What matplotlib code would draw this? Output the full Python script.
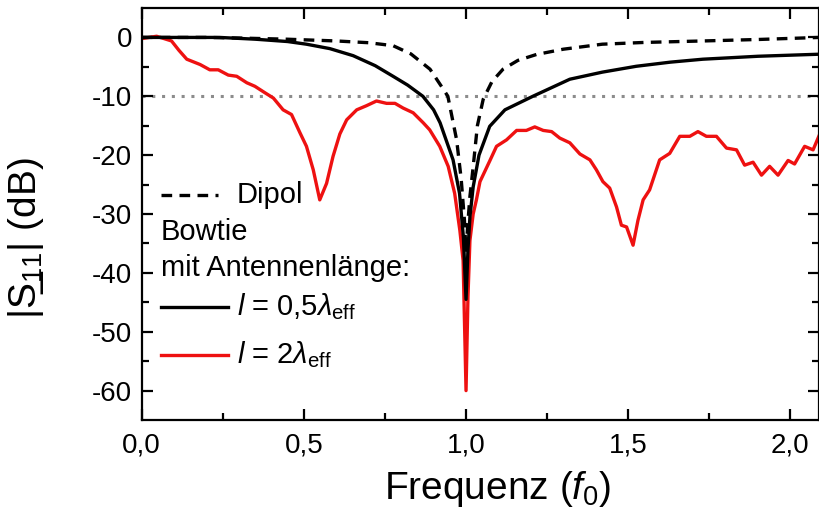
import matplotlib
matplotlib.use("Agg")
import matplotlib.pyplot as plt

plt.rcParams['font.family'] = ['Liberation Sans', 'DejaVu Sans']
plt.rcParams['mathtext.fontset'] = 'custom'
plt.rcParams['mathtext.rm'] = 'Liberation Sans'
plt.rcParams['mathtext.it'] = 'Liberation Sans:italic'
plt.rcParams['mathtext.bf'] = 'Liberation Sans:bold'

# ---- data ----
dipol_x = [0.0, 0.10, 0.20, 0.30, 0.447, 0.60, 0.70, 0.775, 0.83, 0.889, 0.93, 0.944, 0.971,
           0.985, 0.995, 1.0, 1.005, 1.012, 1.022, 1.035, 1.053, 1.08, 1.114, 1.16, 1.217,
           1.30, 1.42, 1.55, 1.73, 1.90, 2.09]
dipol_y = [0.0, 0.0, 0.0, -0.1, -0.3, -0.6, -0.9, -1.4, -2.8, -5.4, -8.8, -10.0, -17.4,
           -24.0, -31.0, -36.5, -32.0, -27.0, -22.0, -15.0, -10.5, -7.5, -5.4, -3.9, -2.9,
           -2.0, -1.15, -0.85, -0.6, -0.35, 0.0]

bow05_x = [0.0, 0.10, 0.24, 0.35, 0.45, 0.508, 0.58, 0.652, 0.72, 0.775, 0.82, 0.867, 0.90,
           0.92, 0.96, 0.98, 0.992, 1.0, 1.006, 1.012, 1.022, 1.04, 1.073, 1.12, 1.206,
           1.32, 1.42, 1.525, 1.63, 1.73, 1.90, 2.09]
bow05_y = [0.0, 0.0, 0.0, -0.3, -0.7, -1.15, -1.9, -3.1, -4.8, -6.6, -8.1, -10.0, -12.3,
           -14.5, -20.8, -26.5, -34.0, -44.5, -36.0, -30.5, -25.4, -20.0, -15.1, -12.3, -10.0,
           -7.1, -5.9, -4.9, -4.2, -3.7, -3.2, -2.85]

bow2_x = [0.0, 0.046, 0.092, 0.115, 0.139, 0.18, 0.21, 0.236, 0.267, 0.293, 0.324, 0.349,
          0.38, 0.406, 0.436, 0.462, 0.488, 0.508, 0.529, 0.549, 0.57, 0.59, 0.611, 0.632,
          0.663, 0.693, 0.724, 0.755, 0.781, 0.806, 0.837, 0.868, 0.888, 0.919, 0.945,
          0.965, 0.981, 0.991, 1.0, 1.006, 1.012, 1.022, 1.032, 1.043, 1.073, 1.094, 1.125,
          1.156, 1.186, 1.212, 1.238, 1.264, 1.289, 1.32, 1.351, 1.382, 1.402, 1.422, 1.443,
          1.464, 1.479, 1.495, 1.515, 1.53, 1.546, 1.566, 1.597, 1.628, 1.659, 1.69, 1.715,
          1.741, 1.772, 1.803, 1.834, 1.859, 1.885, 1.911, 1.936, 1.962, 1.993, 2.013,
          2.044, 2.07, 2.09]
bow2_y = [-0.2, 0.2, -0.6, -2.2, -3.7, -4.6, -5.5, -5.5, -6.4, -6.6, -7.7, -8.3,
          -9.4, -10.3, -12.3, -13.1, -16.2, -18.5, -22.5, -27.6, -24.8, -20.2, -16.4, -14.0,
          -12.3, -11.6, -10.8, -11.2, -11.2, -12.0, -12.8, -14.5, -15.7, -18.5, -21.9,
          -26.5, -32.8, -37.9, -60.0, -44.0, -34.5, -30.0, -27.6, -24.5, -21.0, -18.5, -17.4,
          -15.8, -15.8, -15.2, -15.8, -16.0, -17.1, -17.9, -19.8, -20.8, -22.5, -24.5, -25.6,
          -28.8, -31.9, -32.2, -35.3, -31.1, -27.6, -25.9, -20.8, -19.7, -16.8, -16.8, -16.0,
          -16.8, -16.8, -18.8, -19.1, -21.7, -21.2, -23.4, -21.9, -23.4, -20.9, -21.5,
          -18.5, -19.1, -16.5]

ref_level = -10
xticks = [0.0, 0.5, 1.0, 1.5, 2.0]
xticklabels = ['0,0', '0,5', '1,0', '1,5', '2,0']
yticks = [0, -10, -20, -30, -40, -50, -60]
yticklabels = ['0', '-10', '-20', '-30', '-40', '-50', '-60']

fig = plt.figure(figsize=(8.19, 5.16), dpi=100)
ax = fig.add_axes([0.173, 0.186, 0.8265, 0.7985])

ax.axhline(ref_level, color='#8c8c8c', lw=2.2, ls=(0, (1, 2.2)), zorder=1)
ax.plot(dipol_x, dipol_y, color='black', lw=2.4, ls=(0, (3.2, 2.2)), zorder=3)
ax.plot(bow05_x, bow05_y, color='black', lw=2.4, zorder=3)
ax.plot(bow2_x, bow2_y, color='#ee1111', lw=2.4, zorder=2)

ax.set_xlim(0, 2.087)
ax.set_ylim(-65, 5)
ax.set_xticks(xticks)
ax.set_xticklabels(xticklabels)
ax.set_yticks(yticks)
ax.set_yticklabels(yticklabels)
ax.set_xticks([0.25, 0.75, 1.25, 1.75], minor=True)
ax.set_yticks([-5, -15, -25, -35, -45, -55], minor=True)
ax.tick_params(which='both', direction='in', top=True, right=True, width=1.6, labelsize=20)
ax.tick_params(which='major', length=8)
ax.tick_params(which='minor', length=5)
ax.tick_params(axis='x', pad=9)
ax.tick_params(axis='y', pad=7)
for s in ax.spines.values():
    s.set_linewidth(1.6)

ax.set_xlabel(r'Frequenz ($f_0$)', fontsize=28)
ax.xaxis.set_label_coords(0.526, -0.118)
ax.set_ylabel('|S\u0332' + r'$_{11}$' + '| (dB)', fontsize=28)
ax.yaxis.set_label_coords(-0.142, 0.442)

# legend drawn manually in axes coordinates
def ax_xy(px, py):
    return ((px - 141.7) / 677.0, (420 - py) / 412.0)

x0, _ = ax_xy(161, 0)
x1d, _ = ax_xy(218, 0)
x1, _ = ax_xy(228, 0)
xt, _ = ax_xy(237, 0)
_, y_d = ax_xy(0, 195)
_, y_b = ax_xy(0, 232)
_, y_m = ax_xy(0, 268)
_, y_k = ax_xy(0, 307)
_, y_r = ax_xy(0, 355)
ax.plot([x0, x1d], [y_d, y_d], transform=ax.transAxes, color='black', lw=2.4, ls=(0, (3.2, 2.2)))
ax.plot([x0, x1], [y_k, y_k], transform=ax.transAxes, color='black', lw=2.4)
ax.plot([x0, x1], [y_r, y_r], transform=ax.transAxes, color='#ee1111', lw=2.4)
kw = dict(transform=ax.transAxes, fontsize=21, va='center', ha='left')
ax.text(xt, y_d, 'Dipol', **kw)
ax.text(x0, y_b, 'Bowtie', **kw)
ax.text(x0, y_m, 'mit Antennenlänge:', **kw)
ax.text(xt, y_k, r'$l$ = 0,5$\lambda_{\mathrm{eff}}$', **kw)
ax.text(xt, y_r, r'$l$ = 2$\lambda_{\mathrm{eff}}$', **kw)

fig.savefig('out.png', dpi=100)
